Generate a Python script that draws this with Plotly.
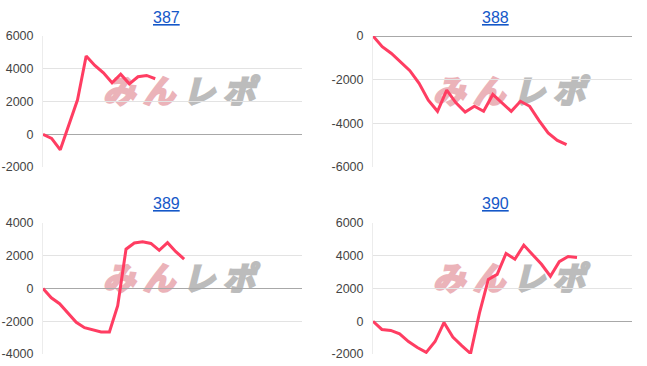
import plotly.graph_objects as go

titles = ["387", "388", "389", "390"]
s387 = [0, -250, -950, 570, 2100, 4780, 4200, 3750, 3140, 3670, 3080, 3510, 3590, 3390]
s388 = [0, -490, -800, -1180, -1590, -2170, -2940, -3450, -2480, -3060, -3480, -3220,
        -3450, -2680, -3060, -3450, -2990, -3220, -3860, -4440, -4780, -4980]
s389 = [0, -570, -930, -1500, -2060, -2390, -2530, -2650, -2650, -1050, 2400, 2780,
        2850, 2750, 2330, 2800, 2250, 1800]
s390 = [0, -500, -560, -770, -1240, -1600, -1900, -1240, -80, -970, -1490, -1970, 500,
        2550, 2860, 4140, 3790, 4650, 4060, 3480, 2750, 3640, 3950, 3890]
series = [s387, s388, s389, s390]
yranges = [[-2000, 6000], [-6000, 0], [-4000, 4000], [-2000, 6000]]
yticks = [[-2000, 0, 2000, 4000, 6000], [-6000, -4000, -2000, 0],
          [-4000, -2000, 0, 2000, 4000], [-2000, 0, 2000, 4000, 6000]]
xmax = [30.0, 28.1, 31.2, 29.2]

W, H = 647, 366
# plot areas in pixels (left, right, top, bottom)
areas = [(43, 302, 36, 167), (373, 632, 36, 167), (43, 302, 223, 354), (373, 632, 223, 354)]
title_pos = [(166, 17), (496, 17), (166, 204), (496, 204)]

fig = go.Figure()
LINE = "#ff3d62"
LOGO = ("<b><i><span style='color:#ebb3b9;stroke:#ebb3b9;stroke-width:2.5px;letter-spacing:8px'>みん</span>"
        "<span style='color:#bcbcbc;stroke:#bcbcbc;stroke-width:2.5px;letter-spacing:8px'>レポ</span></i></b>")
for i, (vals, (l, r, t, b)) in enumerate(zip(series, areas)):
    n = i + 1
    xa = "x" if n == 1 else f"x{n}"
    ya = "y" if n == 1 else f"y{n}"
    fig.add_trace(go.Scatter(x=list(range(len(vals))), y=vals, mode="lines",
                             line=dict(color=LINE, width=3), xaxis=xa, yaxis=ya,
                             showlegend=False, hoverinfo="skip"))
    xkey = "xaxis" if n == 1 else f"xaxis{n}"
    ykey = "yaxis" if n == 1 else f"yaxis{n}"
    fig.layout[xkey] = dict(domain=[l / W, r / W], range=[0, xmax[i]], showgrid=False,
                            zeroline=False, showticklabels=False, showline=False,
                            anchor=ya, fixedrange=True, automargin=False)
    fig.layout[ykey] = dict(domain=[1 - b / H, 1 - t / H], range=yranges[i],
                            tickvals=yticks[i], ticktext=[str(v) for v in yticks[i]],
                            showgrid=True, gridcolor="#e3e3e3", gridwidth=1,
                            zeroline=True, zerolinecolor="#a8a8a8", zerolinewidth=1,
                            showline=True, linecolor="#ececec", linewidth=1,
                            tickfont=dict(family="Liberation Sans, Arial", size=12.5, color="#444"),
                            ticklabelstandoff=6, anchor=xa, fixedrange=True, automargin=False)
    tx, ty = title_pos[i]
    fig.add_annotation(x=tx / W, y=1 - ty / H, xref="paper", yref="paper",
                       text=f"<span style='text-decoration:underline'>{titles[i]}</span>",
                       showarrow=False, xanchor="center", yanchor="middle",
                       font=dict(family="Liberation Sans, Arial", size=16, color="#1558c8"))
    # watermark logo, below the line
    fig.add_shape(type="rect", xref=f"{xa} domain", yref=f"{ya} domain",
                  x0=0.232, x1=0.849, y0=0.458, y1=0.664, layer="below",
                  line=dict(width=0), fillcolor="rgba(0,0,0,0)",
                  label=dict(text=LOGO, textposition="middle center",
                             font=dict(family="Noto Sans CJK JP", size=32)))

fig.update_layout(width=W, height=H, margin=dict(l=0, r=0, t=0, b=0),
                  plot_bgcolor="white", paper_bgcolor="white")
fig.write_html("out.html")
